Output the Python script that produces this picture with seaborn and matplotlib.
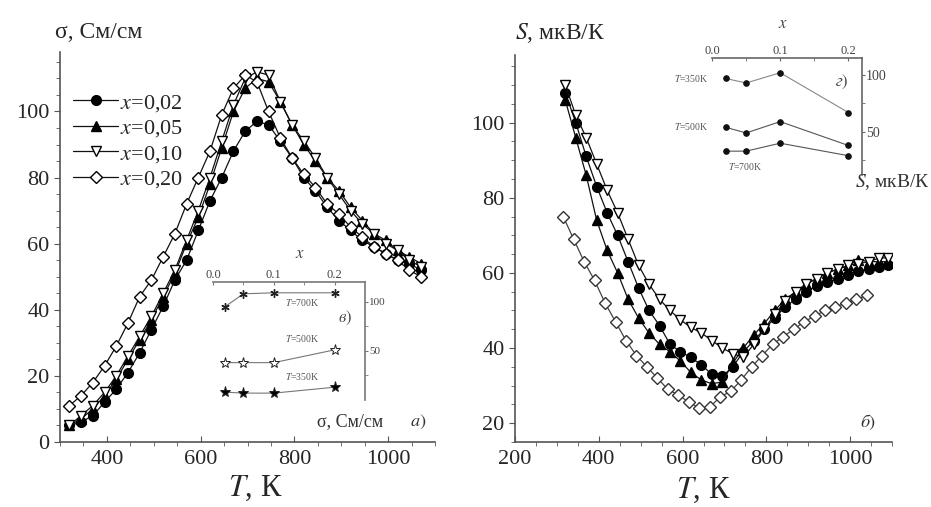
import numpy as np
import pandas as pd
import seaborn as sns
import matplotlib.pyplot as plt

# ---- данные: проводимость sigma(T), См/см ----
T_sig = [320, 345, 370, 395, 420, 445, 470, 495, 520, 545, 570, 595, 620, 645, 670,
         695, 720, 745, 770, 795, 820, 845, 870, 895, 920, 945, 970, 995, 1020, 1045, 1070]
sig_002 = [5, 6, 8, 12, 16, 21, 27, 34, 41, 49, 55, 64, 73, 80, 88,
           94, 97, 96, 91, 86, 80, 76, 71, 67, 64, 61, 59, 57, 55, 54, 52]
sig_005 = [5, 7, 10, 14, 19, 25, 31, 37, 44, 51, 60, 68, 78, 89, 100,
           107, 110, 109, 103, 96, 90, 85, 80, 76, 71, 67, 63, 61, 58, 56, 54]
sig_010 = [5, 8, 11, 15, 20, 26, 32, 38, 45, 52, 61, 70, 80, 91, 102,
           110, 112, 111, 103, 96, 91, 86, 80, 75, 70, 66, 63, 60, 58, 55, 53]
sig_020 = [11, 14, 18, 23, 29, 36, 44, 49, 56, 63, 72, 80, 88, 99, 107,
           111, 109, 100, 92, 86, 81, 77, 72, 69, 65, 62, 59, 57, 55, 52, 50]

# ---- данные: термоЭДС S(T), мкВ/К ----
T_S = [320, 345, 370, 395, 420, 445, 470, 495, 520, 545, 570, 595, 620, 645, 670, 695,
       720, 745, 770, 795, 820, 845, 870, 895, 920, 945, 970, 995, 1020, 1045, 1070, 1090]
S_002 = [108, 100, 91, 83, 76, 70, 63, 56, 50, 46, 41, 39, 37.5, 35.5, 33, 32.5,
         35, 39, 42, 45, 48, 51, 53, 55, 56.5, 57.5, 58.5, 59.5, 60.5, 61, 61.5, 62]
S_005 = [106, 96, 86, 74, 66, 60, 53, 48, 44, 41, 39, 36.5, 33.5, 31.5, 30.5, 31,
         36, 40, 43.5, 46.5, 50, 53, 55, 57, 58.5, 60, 61, 62, 63.5, 63, 63, 63]
S_010 = [110, 102, 96, 89, 82, 76, 69, 62, 57, 53, 50, 47.5, 45.5, 44, 42, 40,
         38.5, 37.5, 41, 45, 49, 52.5, 55, 57, 58.5, 60, 61, 62, 62.5, 63, 64, 64]
T_S20 = [315, 340, 365, 390, 415, 440, 465, 490, 515, 540, 565, 590, 615, 640, 665,
         690, 715, 740, 765, 790, 815, 840, 865, 890, 915, 940, 965, 990, 1015, 1040]
S_020 = [75, 69, 63, 58, 52, 47, 42, 38, 35, 32, 29, 27.5, 25.6, 24, 24.3,
         27, 28.5, 31.5, 35, 38, 41, 43, 45, 47, 48.5, 50, 51, 52, 53, 54]

# ---- вставки: зависимость от x ----
x_ins = [0.02, 0.05, 0.10, 0.20]
sig_350 = [8, 7, 7, 13]
sig_500 = [38, 38, 38, 51]
sig_700 = [95, 108, 109, 109]
S_350 = [97, 93, 102, 67]
S_500 = [54, 49, 59, 38]
S_700 = [33, 33, 40, 29]

labels = ["$x$=0,02", "$x$=0,05", "$x$=0,10", "$x$=0,20"]

sns.set_style("ticks")
plt.rcParams['font.family'] = ['Liberation Serif', 'DejaVu Serif']
plt.rcParams['mathtext.fontset'] = 'stix'

W, H = 931, 507
fig = plt.figure(figsize=(W / 100, H / 100), dpi=100)


def fx(x):
    return x / W


def fy(y):
    return 1 - y / H


spine_col = '#555555'


def style_main(ax):
    sns.despine(ax=ax)
    for s in ['left', 'bottom']:
        ax.spines[s].set_color(spine_col)
        ax.spines[s].set_linewidth(1.2)
    ax.tick_params(axis='x', direction='in', length=4, color=spine_col, labelsize=16, pad=6)
    ax.tick_params(axis='y', direction='out', length=4, color=spine_col, labelsize=16)
    ax.tick_params(which='minor', length=3, color=spine_col)
    ax.minorticks_on()


mk = dict(color='#111111', linewidth=0.9, markersize=7, markeredgecolor='black', markeredgewidth=1.0)

# ===================== левая панель: sigma =====================
ax1 = fig.add_axes([fx(60), fy(442), fx(435) - fx(60), fy(52) - fy(442)])
sns.lineplot(x=T_sig, y=sig_002, marker='o', markerfacecolor='black', label=labels[0], ax=ax1, **mk)
sns.lineplot(x=T_sig, y=sig_005, marker='^', markerfacecolor='black', label=labels[1], ax=ax1, **mk)
sns.lineplot(x=T_sig, y=sig_010, marker='v', markerfacecolor='white', label=labels[2], ax=ax1, **mk)
sns.lineplot(x=T_sig, y=sig_020, marker='D', markerfacecolor='white', label=labels[3], ax=ax1,
             **{**mk, 'markersize': 6})
ax1.set_xlim(300, 1100)
ax1.set_ylim(0, 118)
ax1.set_xticks([400, 600, 800, 1000])
ax1.set_yticks([0, 20, 40, 60, 80, 100])
ax1.set_xticks([300, 500, 700, 900, 1100], minor=True)
ax1.set_yticks(np.arange(10, 118, 20), minor=True)
ax1.set_xlabel("")
ax1.set_ylabel("")
style_main(ax1)
ax1.legend(loc='upper left', bbox_to_anchor=(0.0, 0.93), frameon=False, fontsize=16,
           handlelength=2.0, handletextpad=0.1, labelspacing=0.2, borderaxespad=0.2)

fig.text(fx(55), fy(32), "σ, См/см", fontsize=17, va='center', ha='left')
fig.text(fx(255), fy(488), "$T$, К", fontsize=22, va='center', ha='center')
fig.text(fx(418), fy(422), "$а)$", fontsize=13, va='center', ha='center', color='#333333')
fig.text(fx(350), fy(422), "σ, См/см", fontsize=13, va='center', ha='center', color='#333333')

# ---- вставка в) ----
axa = fig.add_axes([fx(213), fy(400), fx(365) - fx(213), fy(282) - fy(400)])
ins = dict(color='#777777', linewidth=0.8, markeredgecolor='#222222')
sns.lineplot(x=x_ins, y=sig_700, marker=(6, 2, 0), markersize=6, markeredgewidth=1.0, ax=axa, **ins)
sns.lineplot(x=x_ins, y=sig_500, marker='*', markersize=8, markerfacecolor='white', markeredgewidth=0.7, ax=axa, **ins)
sns.lineplot(x=x_ins, y=sig_350, marker='*', markersize=8, markerfacecolor='black', markeredgewidth=0.7, ax=axa, **ins)
axa.set_xlim(0, 0.25)
axa.set_ylim(0, 120)
axa.xaxis.tick_top()
axa.yaxis.tick_right()
for s in ['left', 'bottom']:
    axa.spines[s].set_visible(False)
for s in ['top', 'right']:
    axa.spines[s].set_color('#777777')
    axa.spines[s].set_linewidth(1.2)
axa.set_xticks([0.0, 0.1, 0.2])
axa.set_xticklabels(["0.0", "0.1", "0.2"])
axa.set_yticks([50, 100])
axa.set_xticks([0.05, 0.15], minor=True)
axa.set_yticks([25, 75], minor=True)
axa.tick_params(axis='x', which='both', direction='in', length=2, color='#777777', labelsize=9, pad=1,
                labelcolor='#444444')
axa.tick_params(axis='y', which='both', direction='out', length=2, color='#777777', labelsize=8, pad=1,
                labelcolor='#444444')
axa.set_facecolor('none')
axa.set_xlabel("")
axa.set_ylabel("")
fig.text(fx(300), fy(254), "$x$", fontsize=12, ha='center', va='center', color='#444444')
fig.text(fx(302), fy(303), "$T$=700K", fontsize=7, ha='center', va='center', color='#555555')
fig.text(fx(302), fy(339), "$T$=500K", fontsize=7, ha='center', va='center', color='#555555')
fig.text(fx(302), fy(377), "$T$=350K", fontsize=7, ha='center', va='center', color='#555555')
fig.text(fx(345), fy(318), "$в)$", fontsize=12, ha='center', va='center', color='#444444')

# ===================== правая панель: S =====================
ax2 = fig.add_axes([fx(515), fy(442), fx(892) - fx(515), fy(55) - fy(442)])
sns.lineplot(x=T_S, y=S_002, marker='o', markerfacecolor='black', ax=ax2, **mk)
sns.lineplot(x=T_S, y=S_005, marker='^', markerfacecolor='black', ax=ax2, **mk)
sns.lineplot(x=T_S, y=S_010, marker='v', markerfacecolor='white', ax=ax2, **mk)
sns.lineplot(x=T_S20, y=S_020, marker='D', markerfacecolor='white', ax=ax2,
             **{**mk, 'markersize': 6, 'color': '#444444', 'markeredgecolor': '#333333'})
ax2.set_xlim(200, 1100)
ax2.set_ylim(15, 118)
ax2.set_xticks([200, 400, 600, 800, 1000])
ax2.set_yticks([20, 40, 60, 80, 100])
ax2.set_xticks([300, 500, 700, 900, 1100], minor=True)
ax2.set_yticks([30, 50, 70, 90, 110], minor=True)
ax2.set_xlabel("")
ax2.set_ylabel("")
style_main(ax2)

fig.text(fx(515), fy(33), "$S$, мкВ/К", fontsize=17, va='center', ha='left')
fig.text(fx(703), fy(490), "$T$, К", fontsize=22, va='center', ha='center')
fig.text(fx(868), fy(422), "$б)$", fontsize=13, va='center', ha='center', color='#333333')

# ---- вставка г) ----
axb = fig.add_axes([fx(712), fy(175), fx(862) - fx(712), fy(58) - fy(175)])
ins2 = dict(color='#888888', linewidth=0.8, markeredgecolor='#111111', markerfacecolor='#111111')
sns.lineplot(x=x_ins, y=S_350, marker='o', markersize=4, ax=axb, **ins2)
sns.lineplot(x=x_ins, y=S_500, marker='o', markersize=4, ax=axb, **{**ins2, 'color': '#555555'})
sns.lineplot(x=x_ins, y=S_700, marker='o', markersize=4, ax=axb, **{**ins2, 'color': '#555555'})
axb.set_xlim(0, 0.22)
axb.set_ylim(12, 115)
axb.xaxis.tick_top()
axb.yaxis.tick_right()
for s in ['left', 'bottom']:
    axb.spines[s].set_visible(False)
for s in ['top', 'right']:
    axb.spines[s].set_color('#666666')
    axb.spines[s].set_linewidth(1.2)
axb.set_xticks([0.0, 0.1, 0.2])
axb.set_xticklabels(["0.0", "0.1", "0.2"])
axb.set_yticks([50, 100])
axb.set_xticks([0.05, 0.15], minor=True)
axb.set_yticks([25, 75], minor=True)
axb.tick_params(axis='x', which='both', direction='in', length=2, color='#666666', labelsize=9, pad=1,
                labelcolor='#444444')
axb.tick_params(axis='y', which='both', direction='out', length=2, color='#666666', labelsize=10, pad=1,
                labelcolor='#444444')
axb.set_facecolor('none')
axb.set_xlabel("")
axb.set_ylabel("")
fig.text(fx(783), fy(24), "$x$", fontsize=12, ha='center', va='center', color='#444444')
fig.text(fx(708), fy(78), "$T$=350K", fontsize=7, ha='right', va='center', color='#555555')
fig.text(fx(708), fy(127), "$T$=500K", fontsize=7, ha='right', va='center', color='#555555')
fig.text(fx(745), fy(166), "$T$=700K", fontsize=7, ha='center', va='center', color='#555555')
fig.text(fx(842), fy(82), "$г)$", fontsize=12, ha='center', va='center', color='#444444')
fig.text(fx(930), fy(182), "$S$, мкВ/К", fontsize=14, ha='right', va='center', color='#333333')

fig.savefig("out.png", dpi=100)
